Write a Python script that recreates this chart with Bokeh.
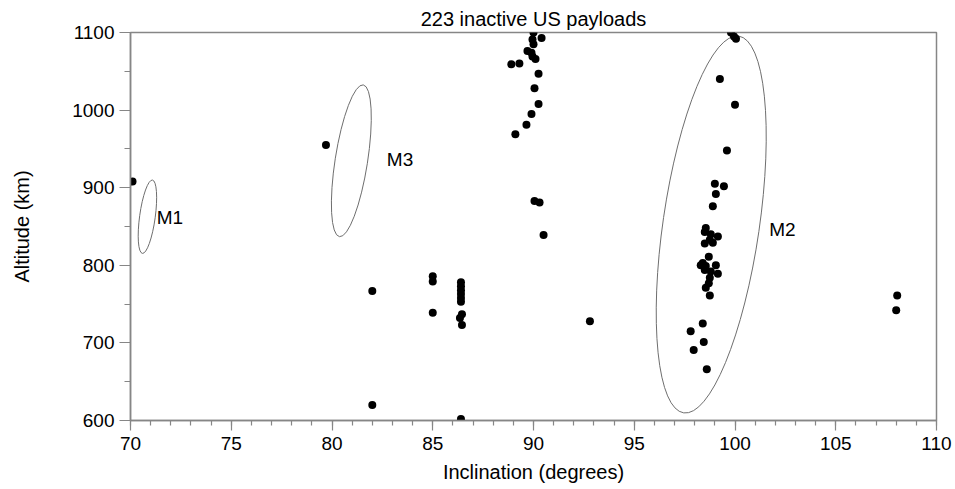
from bokeh.plotting import figure
from bokeh.models import Range1d, SingleIntervalTicker
from bokeh.core.properties import value
from bokeh.embed import file_html
from bokeh.resources import INLINE

# ---- data ----
inclination = [
    70.1, 79.7, 82.0, 82.0,
    85.0, 85.0, 85.0,
    86.4, 86.4, 86.4, 86.4, 86.4, 86.4, 86.45, 86.35, 86.45, 86.4,
    92.8,
    90.0, 90.4, 89.95, 90.0, 89.7, 89.9, 89.95, 90.1, 88.9, 89.3, 90.25, 90.05,
    90.25, 89.9, 89.65, 89.1, 90.05, 90.3, 90.5,
    99.8, 99.95, 100.05, 99.25, 100.0, 99.6, 99.0, 99.45, 99.05, 98.9,
    98.55, 98.5, 98.8, 99.15, 98.75, 98.5, 98.9,
    98.7, 98.4, 98.3, 98.55, 99.05, 98.5, 98.8, 99.15, 98.75, 98.7, 98.55, 98.75,
    98.4, 97.8, 98.45, 97.95, 98.6,
    108.05, 108.0,
]
altitude = [
    908, 955, 767, 620,
    786, 779, 739,
    778, 773, 768, 763, 758, 753, 737, 732, 723, 602,
    728,
    1100, 1093, 1091, 1085, 1076, 1074, 1069, 1066, 1059, 1060, 1047, 1028,
    1008, 995, 981, 969, 883, 881, 839,
    1100, 1095, 1092, 1040, 1007, 948, 905, 902, 892, 876,
    848, 843, 840, 837, 833, 828, 829,
    811, 803, 800, 799, 800, 794, 792, 789, 784, 777, 771, 761,
    725, 715, 701, 691, 666,
    761, 742,
]

# ellipses (centre, width in degrees, height in km, tilt in degrees)
ell_names = ["M1", "M3", "M2"]
ell_x = [70.84, 80.96, 98.82]
ell_y = [862.6, 934.7, 852.6]
ell_w = [0.775, 1.61, 4.78]
ell_h = [95.4, 198.0, 490.7]
ell_angle = [-7.8, -8.9, -8.3]

# ellipse labels
lab_x = [71.3, 82.72, 101.7]
lab_y = [861, 935.7, 845.5]

title_text = "223 inactive US payloads"
x_label = "Inclination (degrees)"
y_label = "Altitude (km)"

FONT = "Liberation Sans"
GRAY = "#868686"

p = figure(frame_width=806, frame_height=388,
           x_range=Range1d(70, 110), y_range=Range1d(600, 1100),
           output_backend="svg", toolbar_location=None,
           min_border_left=130, min_border_right=17, min_border_top=32,
           min_border_bottom=0, title=title_text)

p.title.align = "center"
p.title.text_font = FONT
p.title.text_font_size = "20px"
p.title.text_font_style = "normal"
p.title.text_color = "black"
p.title.standoff = 6

p.xgrid.visible = False
p.ygrid.visible = False
p.outline_line_color = GRAY
p.outline_line_width = 1.5
p.background_fill_color = "white"
p.border_fill_color = "white"

p.xaxis.ticker = SingleIntervalTicker(interval=5, num_minor_ticks=5)
p.yaxis.ticker = SingleIntervalTicker(interval=100, num_minor_ticks=2)

for ax in (p.xaxis[0], p.yaxis[0]):
    ax.axis_line_color = GRAY
    ax.axis_line_width = 1.5
    ax.major_tick_line_color = GRAY
    ax.minor_tick_line_color = GRAY
    ax.major_tick_line_width = 1.2
    ax.minor_tick_line_width = 1.2
    ax.major_tick_in = 0
    ax.minor_tick_in = 0
    ax.major_label_text_font = FONT
    ax.major_label_text_font_size = "19px"
    ax.major_label_text_color = "black"
    ax.axis_label_text_font = FONT
    ax.axis_label_text_font_size = "20px"
    ax.axis_label_text_font_style = "normal"
    ax.axis_label_text_color = "black"

p.yaxis.major_tick_out = 11
p.yaxis.minor_tick_out = 6
p.yaxis.major_label_standoff = 5
p.yaxis.axis_label = y_label
p.yaxis.axis_label_standoff = 36

p.xaxis.major_tick_out = 10
p.xaxis.minor_tick_out = 5
p.xaxis.major_label_standoff = 6
p.xaxis.axis_label = x_label
p.xaxis.axis_label_standoff = 8

p.ellipse(x=ell_x, y=ell_y, width=ell_w, height=ell_h, angle=ell_angle,
          angle_units="deg", fill_color=None, line_color="#6e6e6e", line_width=1)

p.scatter(x=inclination, y=altitude, size=8, marker="circle",
          fill_color="black", line_color="black", line_width=0)

p.text(x=lab_x, y=lab_y, text=ell_names, text_align="left",
       text_baseline="middle", text_font=value(FONT),
       text_font_size="19px", text_color="black")

open("out.html", "w").write(file_html(p, INLINE))
